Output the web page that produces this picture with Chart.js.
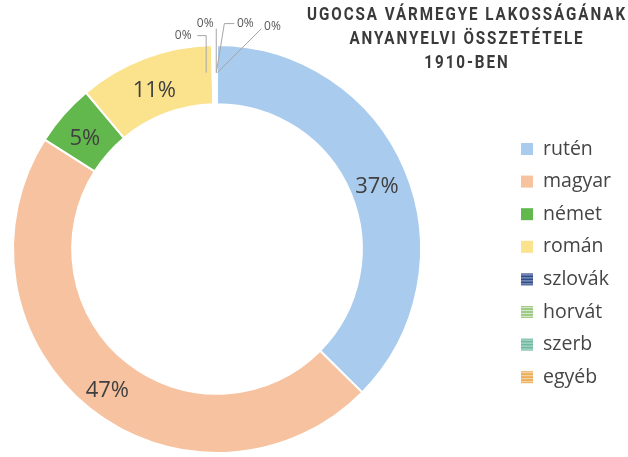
<!DOCTYPE html>
<html><head><meta charset="utf-8">
<script src="https://cdn.jsdelivr.net/npm/chart.js@4/dist/chart.umd.min.js"></script>
<style>html,body{margin:0;padding:0;background:#fff}#wrap{width:628px;height:457px;position:relative}</style>
</head><body><div id="wrap"><canvas id="c" width="628" height="457"></canvas></div>
<script>
const categories = ['rutén','magyar','német','román','szlovák','horvát','szerb','egyéb'];
const shares = [37.4, 46.6, 4.9, 10.7, 0.1, 0.1, 0.1, 0.1];
const titleLines = ['UGOCSA VÁRMEGYE LAKOSSÁGÁNAK','ANYANYELVI ÖSSZETÉTELE','1910-BEN'];

const sliceColors = ['#a9cbee','#f6c29f','#62b84c','#fbe28d','#2f4b8c','#9fcb86','#6fb9a0','#ecae58'];
const striped = [false,false,false,false,true,true,true,true];
// label offsets (relative to slice centroid) for the tiny slices
const smallLabelCfg = {
  4: {dx:-30, dy:-39, path:[[-16,-39],[-7,-39],[-7,-2]]},
  5: {dx:-9,  dy:-51, path:[[2,-46],[2,-2]]},
  6: {dx:30,  dy:-51, path:[[19,-51],[9,-51],[1,-2]]},
  7: {dx:56,  dy:-48, path:[[45,-46],[1,-2]]}
};
const TEXT = '#404040';

const labelPlugin = {
  id:'labels',
  afterDatasetsDraw(chart){
    const ctx = chart.ctx;
    const meta = chart.getDatasetMeta(0);
    const data = chart.data.datasets[0].data;
    const total = data.reduce((a,b)=>a+b,0);
    ctx.save();
    meta.data.forEach((arc,i)=>{
      const pct = Math.round(data[i]/total*100) + '%';
      const p = arc.tooltipPosition();
      if (smallLabelCfg[i]) {
        const c = smallLabelCfg[i];
        ctx.strokeStyle = '#a6a6a6';
        ctx.lineWidth = 1;
        ctx.beginPath();
        c.path.forEach((q,k)=>{ const X=p.x+q[0], Y=p.y+q[1]; k? ctx.lineTo(X,Y):ctx.moveTo(X,Y); });
        ctx.stroke();
        ctx.fillStyle = '#595959';
        ctx.font = '12px "Open Sans"';
        ctx.textAlign='center'; ctx.textBaseline='middle';
        ctx.fillText(pct, p.x+c.dx, p.y+c.dy);
      } else {
        ctx.fillStyle = TEXT;
        ctx.font = '22px "Open Sans"';
        ctx.textAlign='center'; ctx.textBaseline='middle';
        ctx.fillText(pct, p.x-1, p.y+5);
      }
    });
    ctx.restore();
  }
};

const legendPlugin = {
  id:'customLegend',
  afterDraw(chart){
    const ctx = chart.ctx;
    const ds = chart.data.datasets[0];
    const x0 = chart.chartArea.right + 99;
    const y0 = 149, step = 32.6, bs = 12;
    ctx.save();
    chart.data.labels.forEach((lab,i)=>{
      const y = y0 + i*step;
      ctx.fillStyle = ds.backgroundColor[i];
      ctx.fillRect(x0, y-bs/2, bs, bs);
      if (striped[i]) {
        ctx.fillStyle = 'rgba(255,255,255,0.55)';
        for (let k=1;k<bs;k+=3) ctx.fillRect(x0, y-bs/2+k, bs, 1);
      }
      ctx.fillStyle = '#454545';
      ctx.font = '19.5px "Open Sans"';
      ctx.textAlign='left'; ctx.textBaseline='middle';
      ctx.fillText(lab, x0+22, y);
    });
    ctx.restore();
  }
};

const titlePlugin = {
  id:'customTitle',
  afterDraw(chart){
    const ctx = chart.ctx;
    const sx = 0.8, target = 318;
    ctx.save();
    ctx.fillStyle = '#3a3a3a';
    ctx.font = 'bold 19px Roboto';
    ctx.textAlign='left'; ctx.textBaseline='middle';
    const n = titleLines[0].length;
    const w0 = ctx.measureText(titleLines[0]).width;
    const lsScreen = Math.max(0, (target - w0*sx) / (n - 1));
    const cx = chart.width - 162;
    titleLines.forEach((t,i)=>{
      ctx.save();
      ctx.letterSpacing = '0px';
      const wScreen = ctx.measureText(t).width*sx + lsScreen*(t.length-1);
      ctx.translate(cx - wScreen/2, 15 + i*24);
      ctx.scale(sx, 1);
      ctx.letterSpacing = (lsScreen/sx).toFixed(2) + 'px';
      ctx.fillText(t, 0, 0);
      ctx.restore();
    });
    ctx.restore();
  }
};

new Chart(document.getElementById('c'), {
  type:'doughnut',
  data:{labels:categories, datasets:[{data:shares, backgroundColor:sliceColors, borderColor:'#ffffff', borderWidth:2}]},
  options:{
    responsive:false, animation:false, cutout:'71%',
    layout:{padding:{left:12, top:44, right:206, bottom:3}},
    plugins:{legend:{display:false}, tooltip:{enabled:false}, title:{display:false}}
  },
  plugins:[labelPlugin, legendPlugin, titlePlugin]
});
</script></body></html>
